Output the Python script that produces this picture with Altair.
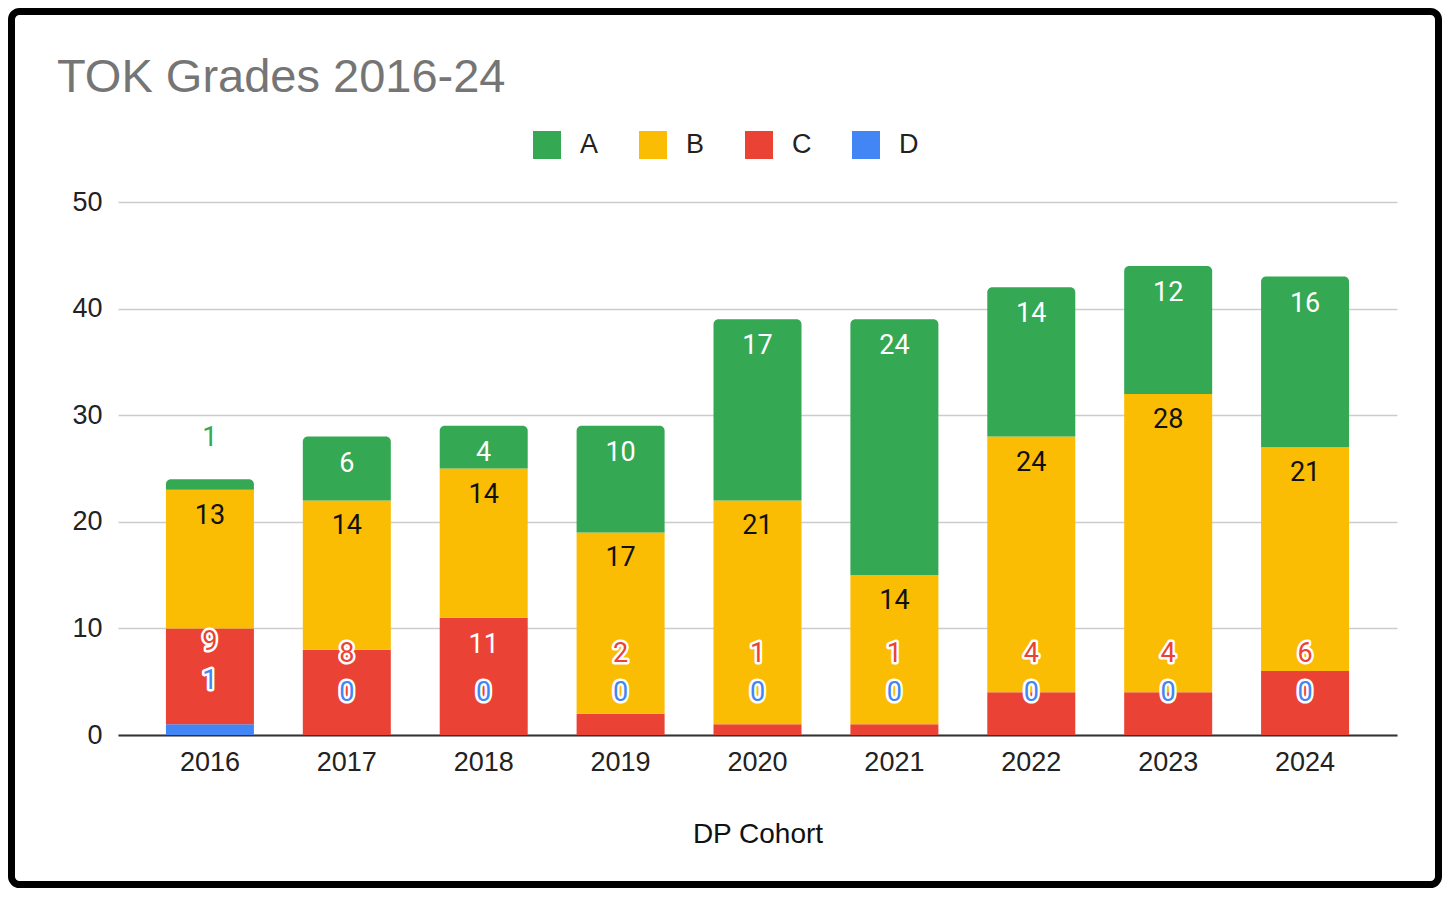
import altair as alt
import pandas as pd

years = ["2016", "2017", "2018", "2019", "2020", "2021", "2022", "2023", "2024"]
grade_A = [1, 6, 4, 10, 17, 24, 14, 12, 16]
grade_B = [13, 14, 14, 17, 21, 14, 24, 28, 21]
grade_C = [9, 8, 11, 2, 1, 1, 4, 4, 6]
grade_D = [1, 0, 0, 0, 0, 0, 0, 0, 0]
grades = ["A", "B", "C", "D"]
colors = ["#34A853", "#FBBC04", "#EA4335", "#4285F4"]

W, H = 1279, 533
PAD_L, PAD_T, PAD_R, PAD_B = 110, 194, 45, 153
PX = H / 50.0  # pixels per data unit

# stacked segments (D at bottom, then C, B, A)
rows = []
labels = []
for i, yr in enumerate(years):
    d, c, b, a = grade_D[i], grade_C[i], grade_B[i], grade_A[i]
    segs = [("D", 0, d), ("C", d, d + c), ("B", d + c, d + c + b), ("A", d + c + b, d + c + b + a)]
    for g, y0, y1 in segs:
        rows.append({"year": yr, "grade": g, "y0": y0, "y1": y1})
    c_top = d + c
    b_top = d + c + b
    a_top = b_top + a
    # A label
    if a * PX < 30:
        labels.append({"year": yr, "txt": str(a), "ly": a_top + 43 / PX, "fill": colors[0], "halo": False})
    else:
        labels.append({"year": yr, "txt": str(a), "ly": a_top - 25 / PX, "fill": "#ffffff", "halo": False})
    # B label
    labels.append({"year": yr, "txt": str(b), "ly": b_top - 24 / PX, "fill": "#111111", "halo": False})
    # C and D labels (collision avoidance like the original)
    if d > 0:
        c_ly = c_top - 11.5 / PX
        d_ly = c_ly - 39 / PX
    else:
        c_ly = max(c_top - 25 / PX, 83 / PX)
        d_ly = 44 / PX
    c_inside = (c_top - c_ly) * PX >= 20
    labels.append({"year": yr, "txt": str(c), "ly": c_ly,
                   "fill": "#ffffff" if c_inside else colors[2], "halo": not c_inside})
    labels.append({"year": yr, "txt": str(d), "ly": d_ly, "fill": colors[3], "halo": True})

bars = pd.DataFrame(rows)
lab = pd.DataFrame(labels)

xenc = alt.X("year:N", sort=years,
             scale=alt.Scale(paddingInner=0.357, paddingOuter=0.35),
             axis=alt.Axis(title="DP Cohort", labelAngle=0, labelFont="Liberation Sans",
                           labelFontSize=27, labelColor="#222222", labelPadding=14,
                           ticks=False, domainColor="#333333", domainWidth=2,
                           titleFont="Liberation Sans", titleFontSize=28,
                           titleFontWeight="normal", titleColor="#111111", titlePadding=45))
yscale = alt.Scale(domain=[0, 50], nice=False)
yaxis = alt.Axis(values=[0, 10, 20, 30, 40, 50], title=None, labelFont="Liberation Sans",
                 labelFontSize=27, labelColor="#222222", labelPadding=16, ticks=False,
                 domain=False, gridColor="#cccccc", gridWidth=1.6)
color = alt.Color("grade:N",
                  scale=alt.Scale(domain=grades, range=colors),
                  legend=alt.Legend(title=None, orient="none", direction="horizontal",
                                    legendX=415, legendY=-71, symbolType="square",
                                    symbolSize=784, symbolStrokeWidth=0, symbolOpacity=1,
                                    labelFont="Liberation Sans", labelFontSize=27,
                                    labelColor="#222222", labelOffset=19,
                                    columnPadding=40, padding=0))

base = alt.Chart(bars)
lower = base.transform_filter(alt.datum.grade != "A").mark_bar(size=88).encode(
    x=xenc, y=alt.Y("y0:Q", scale=yscale, axis=yaxis), y2="y1:Q", color=color)
upper = base.transform_filter(alt.datum.grade == "A").mark_bar(
    size=88, cornerRadiusTopLeft=5, cornerRadiusTopRight=5).encode(
    x=xenc, y=alt.Y("y0:Q", scale=yscale, axis=yaxis), y2="y1:Q", color=color)

lbase = alt.Chart(lab)
halo = lbase.transform_filter(alt.datum.halo).mark_text(
    font="Roboto", fontSize=27, baseline="middle", align="center", dy=2,
    stroke="white", strokeWidth=5, strokeJoin="round", fill="white").encode(
    x=alt.X("year:N", sort=years), y=alt.Y("ly:Q", scale=yscale), text="txt:N")
txt = lbase.mark_text(font="Roboto", fontSize=27, baseline="middle", align="center", dy=2).encode(
    x=alt.X("year:N", sort=years), y=alt.Y("ly:Q", scale=yscale), text="txt:N",
    fill=alt.Fill("fill:N", scale=None))

frame = alt.Chart(alt.Data(values=[{"k": 1}])).mark_rect(
    filled=False, stroke="black", strokeWidth=7, cornerRadius=8).encode(
    x=alt.value(-PAD_L + 3.5), x2=alt.value(W + PAD_R - 3.5),
    y=alt.value(-PAD_T + 3.5), y2=alt.value(H + PAD_B - 3.5))

chart = alt.layer(lower, upper, halo, txt, frame).properties(
    width=W, height=H,
    background="white",
    autosize=alt.AutoSizeParams(type="none"),
    padding={"left": PAD_L, "top": PAD_T, "right": PAD_R, "bottom": PAD_B},
    title=alt.Title("TOK Grades 2016-24", anchor="start", font="Liberation Sans",
                    fontSize=47, fontWeight="normal", color="#757575",
                    baseline="alphabetic", dx=49, dy=135),
).configure_view(stroke=None)

chart.save("out.html", embed_options={"renderer": "svg", "actions": False})
